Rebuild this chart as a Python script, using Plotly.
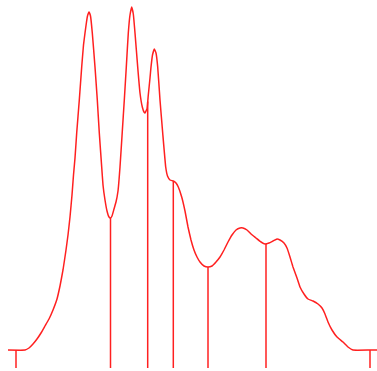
import numpy as np
import plotly.graph_objects as go

# density curve: position along the axis and density height (arbitrary units, baseline = 0)
curve_x = [8, 25, 29, 33, 37, 41, 45, 49, 53, 57, 60, 63, 66, 68, 70, 72, 73.5, 75, 76.7, 79.3, 81.7, 83.5,
           85, 86.5, 87.5, 89, 90.5, 92.3, 95, 97.3, 99.3, 101.7, 103, 105, 107, 109, 110.5, 112, 114, 116,
           118, 120, 122.2, 124.3, 126.3, 128.3, 130, 131.7, 133.3, 135, 137.7, 140, 142.3, 144, 145, 146,
           147, 148.3, 150, 151, 152.5, 154.3, 156, 157.7, 160, 162.7, 165.7, 167.5, 170, 173.3, 176, 178.3,
           181.7, 185, 188, 191, 194, 197, 200, 204, 208, 212, 216, 220, 224, 228, 232, 236, 240, 243, 247,
           251, 256, 261, 265, 269, 273, 277, 280, 284, 287, 290, 293, 297, 300, 304, 308, 313, 318, 322,
           325, 328, 332, 337, 343, 348, 353, 370, 378]
curve_y = [0, 0, 2, 6, 11, 17, 24, 31, 40, 51, 64, 80, 100, 115, 133, 155, 175, 192, 217, 250, 283, 305,
           317, 328, 334, 338, 334, 317, 283, 250, 217, 183, 165, 150, 139, 133, 132, 134, 141, 148,
           159, 183, 217, 250, 283, 317, 335, 343, 336, 317, 283, 257, 243, 238, 237, 239,
           241, 255, 272, 283, 295, 301, 297, 283, 250, 217, 183, 174, 170, 169, 167, 163,
           153, 139, 123, 110, 100, 93, 88, 84, 83, 84, 88, 93, 100, 108, 115, 120, 122, 122, 120,
           116, 112, 108, 106, 107, 109, 111, 110, 107, 102, 93, 83, 72, 63, 56, 51, 49, 46, 42,
           36, 28, 20, 13, 8, 3, 0, 0, 0]

# marker positions (vertical lines) and range end ticks
marker_x = [110.5, 147.7, 173.3, 208, 266]
end_x = [16, 370]
tick_depth = -18

RED = "#ff2020"
fig = go.Figure()
fig.add_trace(go.Scatter(x=curve_x, y=curve_y, mode="lines",
                         line=dict(color=RED, width=1.5, shape="spline", smoothing=0.3),
                         hoverinfo="skip", showlegend=False))

vx, vy = [], []
for m in marker_x:
    top = float(np.interp(m, curve_x, curve_y))
    vx += [m, m, None]
    vy += [top, tick_depth, None]
for e in end_x:
    vx += [e, e, None]
    vy += [0, tick_depth, None]
fig.add_trace(go.Scatter(x=vx, y=vy, mode="lines", line=dict(color=RED, width=1.5),
                         hoverinfo="skip", showlegend=False))

fig.update_layout(width=377, height=371, margin=dict(l=0, r=0, t=0, b=0),
                  paper_bgcolor="white", plot_bgcolor="white",
                  xaxis=dict(range=[0, 377], visible=False, fixedrange=True),
                  yaxis=dict(range=[-21, 350], visible=False, fixedrange=True))
fig.write_html("out.html", config={"displayModeBar": False})
